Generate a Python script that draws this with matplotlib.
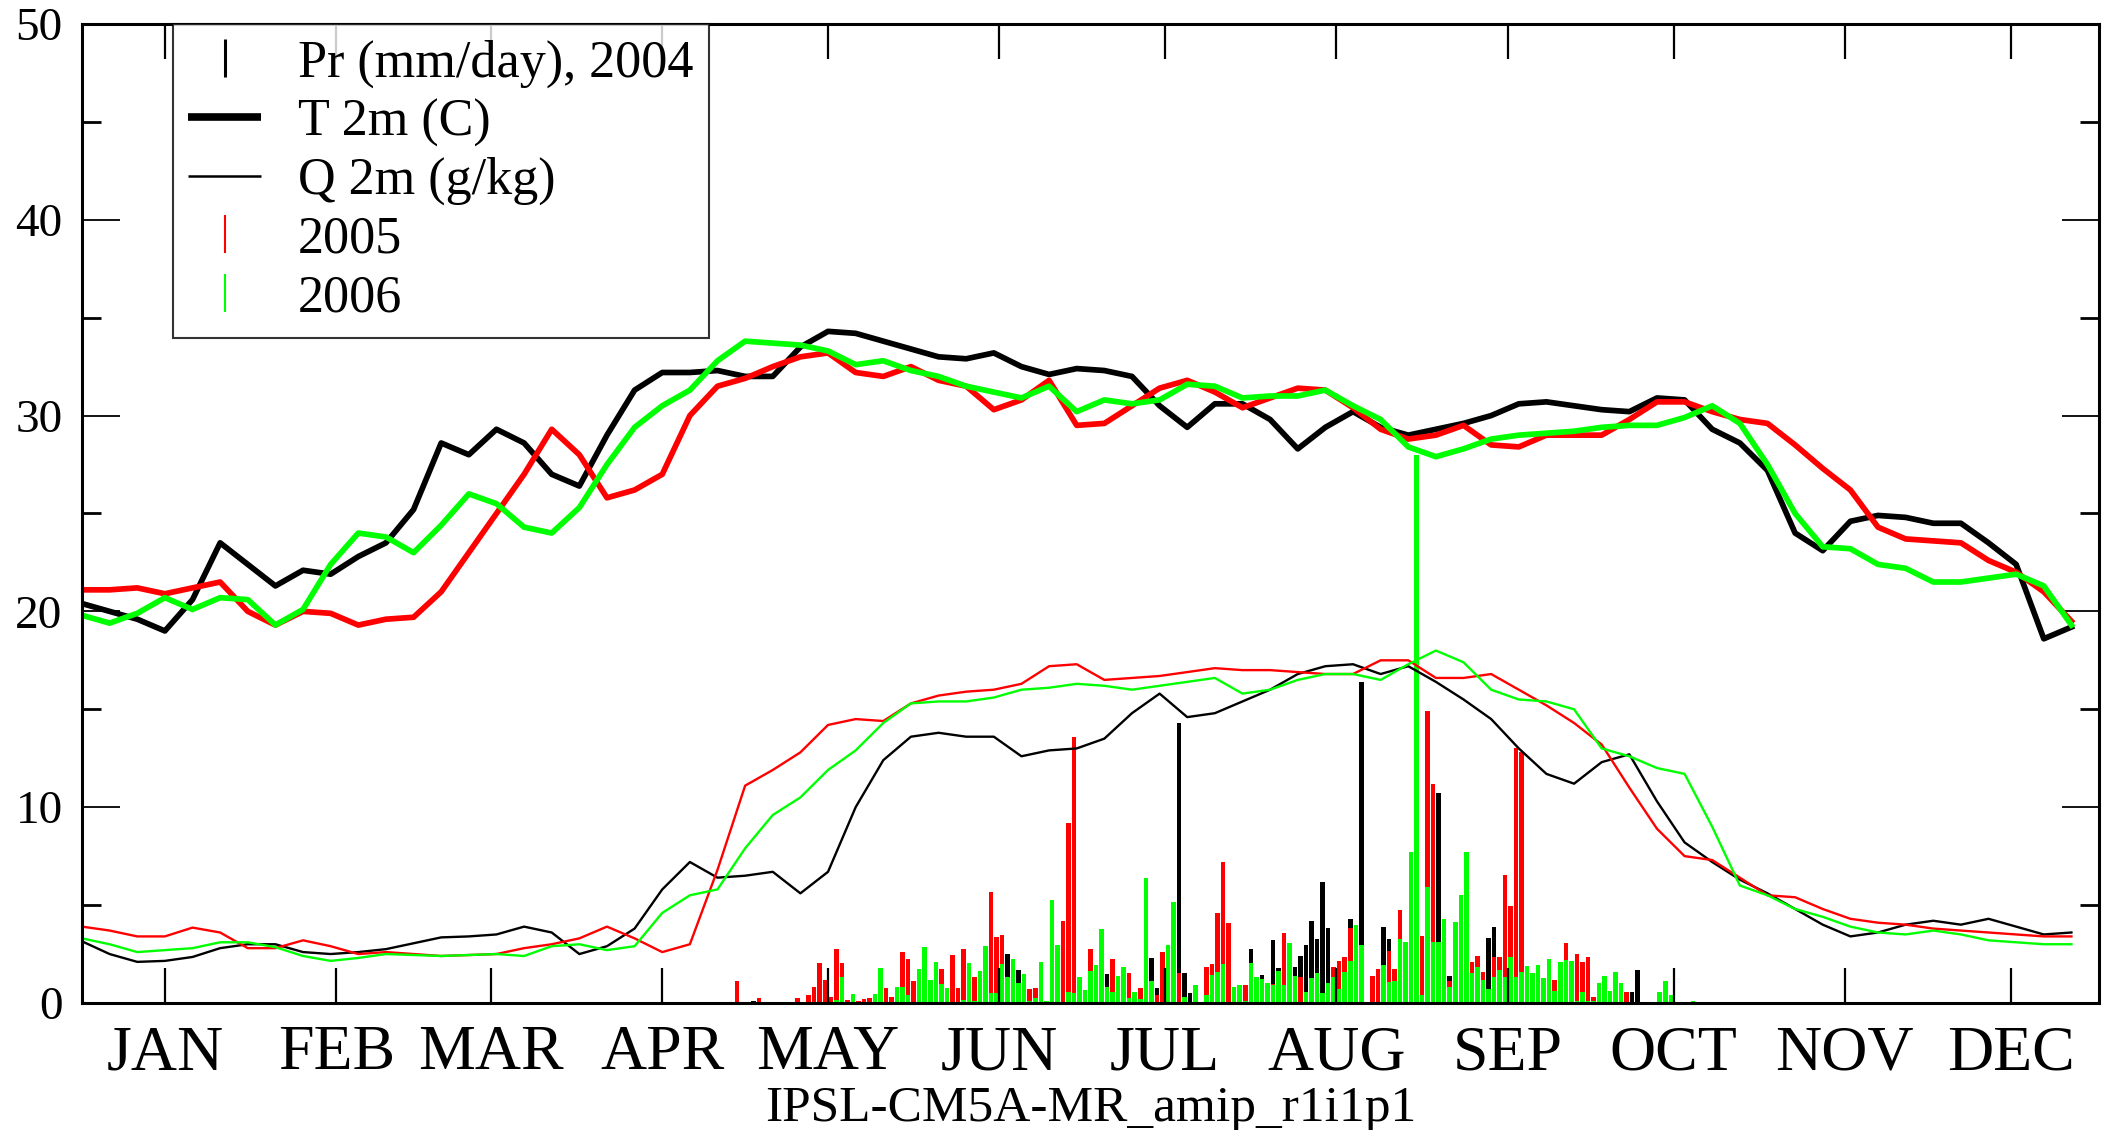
import matplotlib
matplotlib.use("Agg")
import matplotlib.pyplot as plt
from matplotlib.lines import Line2D
import numpy as np

plt.rcParams['font.family'] = ['Liberation Serif', 'DejaVu Serif']

# day grid of the smoothed curves (every 5 days)
curve_days = list(range(0, 361, 5))

# T 2m (C)
t2m_2004 = [20.4, 20.0, 19.6, 19.0, 20.6, 23.5, 22.4, 21.3, 22.1, 21.9, 22.8, 23.5, 25.2, 28.6, 28.0,
            29.3, 28.6, 27.0, 26.4, 29.0, 31.3, 32.2, 32.2, 32.3, 32.0, 32.0, 33.5, 34.3, 34.2, 33.8,
            33.4, 33.0, 32.9, 33.2, 32.5, 32.1, 32.4, 32.3, 32.0, 30.5, 29.4, 30.6, 30.6, 29.8, 28.3,
            29.4, 30.2, 29.4, 29.0, 29.3, 29.6, 30.0, 30.6, 30.7, 30.5, 30.3, 30.2, 30.9, 30.8, 29.3,
            28.6, 27.2, 24.0, 23.1, 24.6, 24.9, 24.8, 24.5, 24.5, 23.5, 22.4, 18.6, 19.2]
t2m_2005 = [21.1, 21.1, 21.2, 20.9, 21.2, 21.5, 20.0, 19.3, 20.0, 19.9, 19.3, 19.6, 19.7, 21.0, 23.0,
            25.0, 27.0, 29.3, 28.0, 25.8, 26.2, 27.0, 30.0, 31.5, 31.9, 32.5, 33.0, 33.2, 32.2, 32.0,
            32.5, 31.8, 31.5, 30.3, 30.8, 31.8, 29.5, 29.6, 30.5, 31.4, 31.8, 31.2, 30.4, 30.9, 31.4,
            31.3, 30.4, 29.3, 28.8, 29.0, 29.5, 28.5, 28.4, 29.0, 29.0, 29.0, 29.8, 30.7, 30.7, 30.2,
            29.8, 29.6, 28.5, 27.3, 26.2, 24.3, 23.7, 23.6, 23.5, 22.6, 22.0, 21.0, 19.5]
t2m_2006 = [19.8, 19.4, 19.9, 20.7, 20.1, 20.7, 20.6, 19.3, 20.1, 22.4, 24.0, 23.8, 23.0, 24.4, 26.0,
            25.5, 24.3, 24.0, 25.3, 27.5, 29.4, 30.5, 31.3, 32.8, 33.8, 33.7, 33.6, 33.3, 32.6, 32.8,
            32.3, 32.0, 31.5, 31.2, 30.9, 31.5, 30.2, 30.8, 30.6, 30.8, 31.6, 31.5, 30.9, 31.0, 31.0,
            31.3, 30.5, 29.8, 28.4, 27.9, 28.3, 28.8, 29.0, 29.1, 29.2, 29.4, 29.5, 29.5, 29.9, 30.5,
            29.6, 27.5, 25.0, 23.3, 23.2, 22.4, 22.2, 21.5, 21.5, 21.7, 21.9, 21.3, 19.3]

# Q 2m (g/kg)
q2m_2004 = [3.15, 2.5, 2.1, 2.15, 2.35, 2.8, 3.0, 3.0, 2.6, 2.5, 2.6, 2.75, 3.05, 3.35, 3.4,
            3.5, 3.9, 3.6, 2.5, 2.9, 3.8, 5.8, 7.2, 6.4, 6.5, 6.7, 5.6, 6.7, 10.0, 12.4,
            13.6, 13.8, 13.6, 13.6, 12.6, 12.9, 13.0, 13.5, 14.8, 15.8, 14.6, 14.8, 15.4, 16.0, 16.8,
            17.2, 17.3, 16.8, 17.2, 16.4, 15.5, 14.5, 13.0, 11.7, 11.2, 12.3, 12.7, 10.3, 8.2, 7.2,
            6.3, 5.6, 4.8, 4.0, 3.4, 3.6, 4.0, 4.2, 4.0, 4.3, 3.9, 3.5, 3.6]
q2m_2005 = [3.9, 3.7, 3.4, 3.4, 3.85, 3.6, 2.8, 2.8, 3.2, 2.9, 2.5, 2.6, 2.5, 2.4, 2.45,
            2.5, 2.8, 3.0, 3.3, 3.9, 3.3, 2.6, 3.0, 6.8, 11.1, 11.9, 12.8, 14.2, 14.5, 14.4,
            15.3, 15.7, 15.9, 16.0, 16.3, 17.2, 17.3, 16.5, 16.6, 16.7, 16.9, 17.1, 17.0, 17.0, 16.9,
            16.8, 16.8, 17.5, 17.5, 16.6, 16.6, 16.8, 16.0, 15.2, 14.3, 13.2, 11.0, 8.9, 7.5, 7.3,
            6.4, 5.5, 5.4, 4.8, 4.3, 4.1, 4.0, 3.8, 3.7, 3.6, 3.5, 3.4, 3.4]
q2m_2006 = [3.3, 3.0, 2.6, 2.7, 2.8, 3.1, 3.1, 2.85, 2.4, 2.15, 2.3, 2.5, 2.45, 2.4, 2.45,
            2.5, 2.4, 2.9, 3.0, 2.7, 2.9, 4.6, 5.5, 5.8, 7.9, 9.6, 10.5, 11.9, 12.9, 14.3,
            15.3, 15.4, 15.4, 15.6, 16.0, 16.1, 16.3, 16.2, 16.0, 16.2, 16.4, 16.6, 15.8, 16.0, 16.5,
            16.8, 16.8, 16.5, 17.3, 18.0, 17.4, 16.0, 15.5, 15.4, 15.0, 13.0, 12.6, 12.0, 11.7, 9.0,
            6.0, 5.5, 4.8, 4.4, 3.9, 3.6, 3.5, 3.7, 3.5, 3.2, 3.1, 3.0, 3.0]

# Pr (mm/day), only the wet days (day index 0..364)
pr2004_day = [121, 167, 169, 185, 193, 194, 198, 199, 200, 211, 213, 215, 216, 219, 220, 221, 222,
              223, 224, 225, 229, 231, 235, 236, 245, 247, 254, 255, 280, 281, 282]
pr2004_mm = [0.12, 2.49, 1.69, 1.48, 2.32, 0.75, 14.3, 1.55, 0.53, 2.76, 1.43, 3.2, 1.77, 1.82, 2.42,
             2.96, 4.19, 3.25, 6.2, 3.81, 4.27, 16.4, 3.9, 3.25, 10.7, 1.4, 3.34, 3.9, 0.54, 1.69, 0.05]

pr2005_day = [118, 122, 129, 131, 132, 133, 134, 135, 136, 137, 138, 140, 141, 142, 145, 146, 148,
              149, 150, 155, 157, 158, 159, 161, 164, 165, 166, 171, 172, 177, 178, 179, 182, 186,
              189, 191, 194, 195, 198, 203, 204, 205, 206, 207, 210, 215, 217, 220, 225, 226, 227,
              228, 229, 233, 234, 236, 237, 238, 242, 243, 244, 247, 251, 252, 253, 255, 256, 257,
              258, 259, 260, 266, 268, 270, 271, 272, 273, 279]
pr2005_mm = [1.1, 0.25, 0.25, 0.4, 0.83, 2.04, 1.17, 0.3, 2.75, 2.03, 0.15, 0.12, 0.19, 0.24, 0.75,
             0.32, 2.6, 2.25, 1.12, 1.75, 2.47, 0.75, 2.76, 1.33, 5.69, 3.39, 3.46, 0.7, 0.75, 4.19,
             9.18, 13.6, 2.76, 2.25, 1.55, 0.75, 0.4, 2.6, 1.55, 1.82, 1.97, 4.58, 7.18, 4.1, 0.9,
             0.97, 3.56, 1.31, 1.0, 1.82, 2.16, 2.33, 3.85, 1.4, 1.75, 2.67, 1.74, 4.75, 3.42, 14.9,
             11.2, 1.1, 2.1, 2.4, 1.6, 2.37, 2.33, 6.52, 4.95, 13.0, 12.8, 1.17, 3.05, 2.49, 2.1,
             2.33, 0.32, 0.54]

pr2006_day = [110, 136, 137, 139, 143, 144, 147, 148, 149, 151, 152, 153, 154, 155, 156, 157, 159,
              160, 161, 162, 163, 164, 165, 166, 167, 168, 169, 170, 171, 172, 173, 174, 175, 176,
              177, 178, 179, 180, 181, 182, 183, 184, 185, 186, 187, 188, 189, 190, 191, 192, 193,
              196, 197, 199, 201, 202, 203, 204, 205, 206, 208, 209, 210, 211, 212, 213, 214, 215,
              216, 217, 218, 219, 220, 221, 222, 223, 224, 225, 226, 227, 228, 229, 230, 231, 235,
              236, 237, 238, 239, 240, 241, 242, 243, 244, 245, 246, 247, 248, 249, 250, 251, 252,
              253, 254, 255, 256, 257, 258, 259, 260, 261, 262, 263, 264, 265, 266, 267, 268, 269,
              270, 271, 272, 273, 274, 275, 276, 277, 278, 285, 286, 287, 288, 289, 290, 291, 292]
pr2006_mm = [0.05, 0.15, 1.31, 0.46, 0.46, 1.8, 0.8, 0.8, 0.4, 1.73, 2.88, 1.17, 2.1, 0.97, 0.75,
             0.07, 0.15, 2.03, 0.12, 1.62, 2.91, 0.53, 0.5, 1.97, 1.31, 2.25, 1.04, 1.48, 0.12, 0.26,
             2.11, 0.12, 5.26, 2.96, 0.07, 0.54, 0.5, 1.31, 0.66, 1.62, 1.96, 3.76, 0.83, 0.54, 1.4,
             1.82, 0.26, 0.54, 0.2, 6.38, 1.1, 2.96, 5.17, 0.32, 0.92, 0.07, 0.41, 1.43, 1.6, 1.97,
             0.83, 0.92, 0.12, 2.03, 1.31, 1.21, 1.04, 0.92, 1.63, 0.9, 3.05, 1.4, 0.07, 0.54, 1.26,
             1.55, 0.5, 1.0, 1.31, 0.7, 1.58, 2.13, 3.98, 2.96, 1.94, 1.09, 1.1, 3.25, 3.1, 7.73,
             28.0, 0.41, 5.9, 3.1, 3.1, 4.27, 0.8, 4.15, 5.5, 7.7, 1.55, 1.82, 1.17, 0.7, 1.34, 1.68,
             1.34, 2.37, 1.31, 1.6, 1.9, 1.55, 1.96, 1.26, 2.25, 0.61, 2.1, 2.2, 2.16, 0.12, 0.54,
             0.12, 0.12, 1.04, 1.4, 0.61, 1.6, 1.0, 0.54, 1.12, 0.41, 0.05, 0.05, 0.05, 0.08, 0.03]

months = ['JAN', 'FEB', 'MAR', 'APR', 'MAY', 'JUN', 'JUL', 'AUG', 'SEP', 'OCT', 'NOV', 'DEC']
month_mid = [15, 46, 74, 105, 135, 166, 196, 227, 258, 288, 319, 349]

colors = {'2004': '#000000', '2005': '#ff0000', '2006': '#00ff00'}

fig = plt.figure(figsize=(21.13, 11.30), dpi=100)
ax = fig.add_axes([0.0388, 0.1124, 0.9546, 0.8664])

# precipitation bars, 2004 at the back, 2006 in front
for year, days, vals in [('2004', pr2004_day, pr2004_mm),
                         ('2005', pr2005_day, pr2005_mm),
                         ('2006', pr2006_day, pr2006_mm)]:
    ax.bar(np.array(days) + 0.5, vals, width=0.82, color=colors[year], linewidth=0, zorder=1)

for year, t, q in [('2004', t2m_2004, q2m_2004),
                   ('2005', t2m_2005, q2m_2005),
                   ('2006', t2m_2006, q2m_2006)]:
    ax.plot(curve_days, t, color=colors[year], lw=4.1, solid_joinstyle='round', zorder=2)
    ax.plot(curve_days, q, color=colors[year], lw=1.7, solid_joinstyle='round', zorder=2)

ax.set_xlim(0, 365)
ax.set_ylim(0, 50)
ax.set_yticks(range(0, 51, 10))
ax.set_yticks(range(5, 50, 10), minor=True)
ax.set_xticks(month_mid)
ax.set_xticklabels(months)

for s in ax.spines.values():
    s.set_linewidth(2.2)

ax.tick_params(axis='y', which='major', direction='in', length=27, width=1.3,
               right=True, labelsize=34, pad=14)
ax.tick_params(axis='y', which='minor', direction='in', length=14, width=2.0, right=True)
ax.tick_params(axis='x', which='major', direction='in', length=25, width=1.6,
               top=True, labelsize=46, pad=16)

ax.set_xlabel('IPSL-CM5A-MR_amip_r1i1p1', fontsize=37, labelpad=2)

handles = [
    Line2D([], [], color='black', marker='|', linestyle='None', markersize=27, markeredgewidth=2.2),
    Line2D([], [], color='black', lw=5.5, solid_capstyle='butt'),
    Line2D([], [], color='black', lw=1.8, solid_capstyle='butt'),
    Line2D([], [], color='#ff0000', marker='|', linestyle='None', markersize=27, markeredgewidth=1.5),
    Line2D([], [], color='#00ff00', marker='|', linestyle='None', markersize=27, markeredgewidth=1.5),
]
labels = ['Pr (mm/day), 2004', 'T 2m (C)', 'Q 2m (g/kg)', '2005', '2006']
leg = ax.legend(handles, labels, loc='upper left', bbox_to_anchor=(0.045, 1.0),
                fontsize=37.5, frameon=True, fancybox=False, borderaxespad=0,
                handlelength=1.4, handletextpad=0.7, labelspacing=0.2, borderpad=0.3)
leg.get_frame().set_edgecolor('black')
leg.get_frame().set_linewidth(1.5)

fig.savefig('out.png', dpi=100)
